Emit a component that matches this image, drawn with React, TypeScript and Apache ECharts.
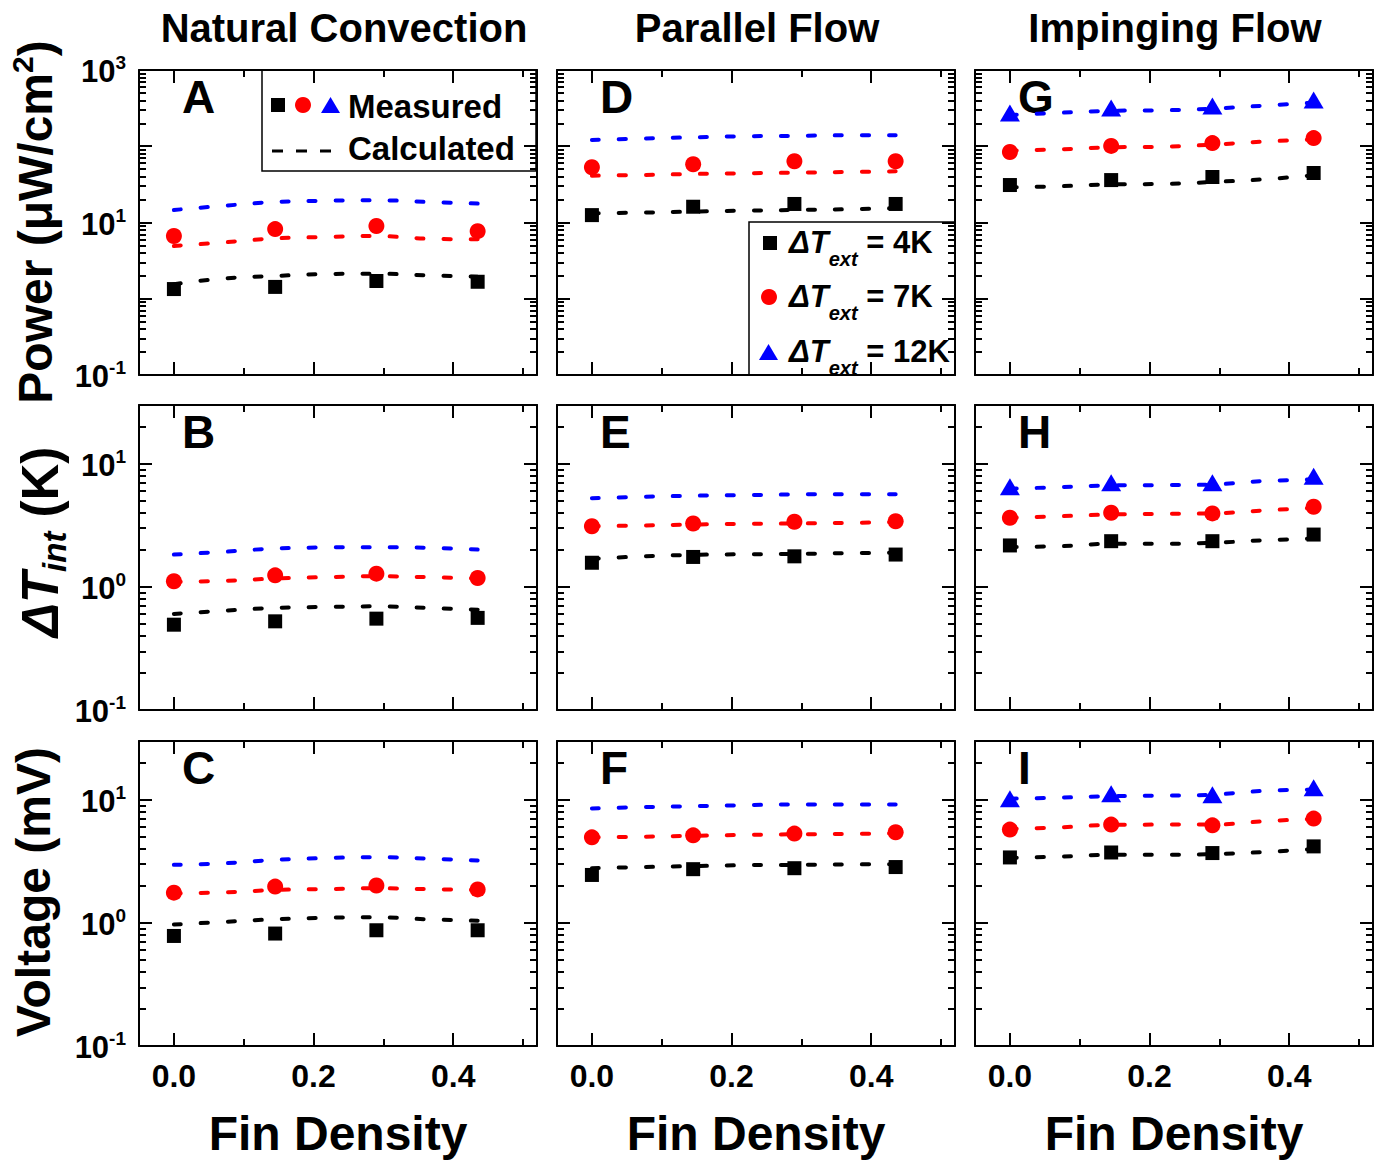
import React, { useEffect, useRef } from "react";
import * as echarts from "echarts";

const FONT = "'Liberation Sans', Arial, Helvetica, sans-serif";

// ---------- texts / ticks ----------
const columnTitles = ["Natural Convection", "Parallel Flow", "Impinging Flow"];
const xAxisTitle = "Fin Density";
const panelLetters = ["A", "B", "C", "D", "E", "F", "G", "H", "I"];
const legendTemps = ["4K", "7K", "12K"];
const xMajorTicks = [0, 0.2, 0.4];
const xMinorTicks = [0.1, 0.3, 0.5];
const powerDecades = [0.1, 1, 10, 100, 1000];
const powerLabelTicks = [0.1, 10, 1000];
const smallDecades = [0.1, 1, 10];
const smallLabelTicks = [0.1, 1, 10];

// ---------- data ----------
const finDensityMeasured = [0, 0.145, 0.29, 0.435];
const finDensityCalculated = [0, 0.0725, 0.145, 0.2175, 0.29, 0.3625, 0.435];

// A: power, natural convection
const powerNatMeas4K = [1.34, 1.43, 1.71, 1.67];
const powerNatMeas7K = [6.65, 8.2, 9.0, 7.7];
const powerNatCalc4K = [1.55, 1.85, 1.99, 2.11, 2.13, 2.03, 1.95];
const powerNatCalc7K = [4.92, 5.5, 6.19, 6.45, 6.65, 6.13, 6.02];
const powerNatCalc12K = [14.6, 16.6, 18.6, 19.3, 19.6, 18.6, 17.7];
// B: dT_int, natural convection
const dtNatMeas4K = [0.493, 0.525, 0.552, 0.56];
const dtNatMeas7K = [1.11, 1.24, 1.28, 1.18];
const dtNatCalc4K = [0.603, 0.641, 0.675, 0.687, 0.695, 0.675, 0.653];
const dtNatCalc7K = [1.1, 1.12, 1.17, 1.2, 1.22, 1.2, 1.17];
const dtNatCalc12K = [1.83, 1.93, 2.05, 2.09, 2.1, 2.08, 2.01];
// C: voltage, natural convection
const vNatMeas4K = [0.783, 0.819, 0.871, 0.871];
const vNatMeas7K = [1.76, 1.97, 2.01, 1.87];
const vNatCalc4K = [0.97, 1.02, 1.07, 1.1, 1.11, 1.07, 1.04];
const vNatCalc7K = [1.74, 1.77, 1.85, 1.88, 1.91, 1.88, 1.85];
const vNatCalc12K = [2.96, 3.05, 3.25, 3.36, 3.42, 3.33, 3.21];
// D: power, parallel flow
const powerParMeas4K = [12.5, 16.1, 17.5, 17.5];
const powerParMeas7K = [53, 58, 63.5, 63.5];
const powerParCalc4K = [13.2, 13.5, 13.9, 14.3, 14.6, 14.9, 15.4];
const powerParCalc7K = [41.1, 42, 43.3, 44.2, 45, 45.9, 46.9];
const powerParCalc12K = [121, 126, 131, 135, 137, 139, 139];
// E: dT_int, parallel flow
const dtParMeas4K = [1.57, 1.75, 1.77, 1.83];
const dtParMeas7K = [3.11, 3.27, 3.38, 3.41];
const dtParCalc4K = [1.69, 1.77, 1.82, 1.84, 1.85, 1.88, 1.89];
const dtParCalc7K = [3.11, 3.15, 3.21, 3.25, 3.27, 3.31, 3.35];
const dtParCalc12K = [5.25, 5.39, 5.5, 5.56, 5.63, 5.66, 5.66];
// F: voltage, parallel flow
const vParMeas4K = [2.45, 2.73, 2.78, 2.84];
const vParMeas7K = [4.95, 5.14, 5.31, 5.44];
const vParCalc4K = [2.78, 2.84, 2.89, 2.94, 2.96, 2.98, 3.0];
const vParCalc7K = [4.95, 5.01, 5.1, 5.18, 5.24, 5.27, 5.33];
const vParCalc12K = [8.49, 8.71, 8.87, 9.03, 9.16, 9.16, 9.16];
// G: power, impinging flow
const powerImpMeas4K = [31, 36, 39.5, 44.6];
const powerImpMeas7K = [84, 101, 110, 128];
const powerImpMeas12K = [273, 318, 337, 405];
const powerImpCalc4K = [29, 29.9, 31.7, 32, 34, 36.8, 41.6];
const powerImpCalc7K = [87.5, 91.2, 96.9, 98.6, 105, 115, 123];
const powerImpCalc12K = [257, 275, 292, 296, 311, 340, 373];
// H: dT_int, impinging flow
const dtImpMeas4K = [2.17, 2.35, 2.35, 2.66];
const dtImpMeas7K = [3.64, 4.0, 3.95, 4.47];
const dtImpMeas12K = [6.5, 7.02, 7.02, 7.93];
const dtImpCalc4K = [2.11, 2.14, 2.24, 2.24, 2.28, 2.39, 2.47];
const dtImpCalc7K = [3.64, 3.75, 3.87, 3.92, 3.95, 4.17, 4.39];
const dtImpCalc12K = [6.27, 6.46, 6.67, 6.7, 6.79, 7.23, 7.46];
// I: voltage, impinging flow
const vImpMeas4K = [3.4, 3.73, 3.69, 4.18];
const vImpMeas7K = [5.72, 6.28, 6.2, 7.03];
const vImpMeas12K = [10.2, 11.2, 11.0, 12.5];
const vImpCalc4K = [3.38, 3.45, 3.57, 3.57, 3.62, 3.76, 3.98];
const vImpCalc7K = [5.8, 5.97, 6.25, 6.28, 6.28, 6.68, 7.0];
const vImpCalc12K = [10.2, 10.4, 10.7, 10.8, 11.0, 11.8, 12.1];

const panels = [
  { row: 0, col: 0, meas: [powerNatMeas4K, powerNatMeas7K, null], calc: [powerNatCalc4K, powerNatCalc7K, powerNatCalc12K] },
  { row: 1, col: 0, meas: [dtNatMeas4K, dtNatMeas7K, null], calc: [dtNatCalc4K, dtNatCalc7K, dtNatCalc12K] },
  { row: 2, col: 0, meas: [vNatMeas4K, vNatMeas7K, null], calc: [vNatCalc4K, vNatCalc7K, vNatCalc12K] },
  { row: 0, col: 1, meas: [powerParMeas4K, powerParMeas7K, null], calc: [powerParCalc4K, powerParCalc7K, powerParCalc12K] },
  { row: 1, col: 1, meas: [dtParMeas4K, dtParMeas7K, null], calc: [dtParCalc4K, dtParCalc7K, dtParCalc12K] },
  { row: 2, col: 1, meas: [vParMeas4K, vParMeas7K, null], calc: [vParCalc4K, vParCalc7K, vParCalc12K] },
  { row: 0, col: 2, meas: [powerImpMeas4K, powerImpMeas7K, powerImpMeas12K], calc: [powerImpCalc4K, powerImpCalc7K, powerImpCalc12K] },
  { row: 1, col: 2, meas: [dtImpMeas4K, dtImpMeas7K, dtImpMeas12K], calc: [dtImpCalc4K, dtImpCalc7K, dtImpCalc12K] },
  { row: 2, col: 2, meas: [vImpMeas4K, vImpMeas7K, vImpMeas12K], calc: [vImpCalc4K, vImpCalc7K, vImpCalc12K] },
];

// ---------- styling / layout ----------
const COLORS = ["#000000", "#ff0000", "#0000ff"];
const SYMBOLS = ["rect", "circle", "triangle"];
const SYMBOL_SIZES: any[] = [14, 16, [20, 17]];
const COL_LEFT = [139, 557, 975];
const ROW_TOP = [70, 405, 741];
const PW = 398;
const PH = 305;
const TITLE_CX = [344, 757, 1175];

function minorTicks(decades: number[], maxV: number) {
  const out: number[] = [];
  decades.forEach((d) => {
    for (let m = 2; m <= 9; m++) {
      const v = d * m;
      if (v < maxV * 0.999) out.push(v);
    }
  });
  return out;
}

function makeX(i: number, pos: string, major: boolean, showLabel: boolean) {
  return {
    type: "value",
    gridIndex: i,
    min: -0.05,
    max: 0.52,
    position: pos,
    axisLine: { show: major, onZero: false, lineStyle: { color: "#000", width: 2 } },
    axisTick: {
      show: true,
      inside: true,
      length: major ? 13 : 7,
      customValues: major ? xMajorTicks : xMinorTicks,
      lineStyle: { color: "#000", width: 2 },
    },
    axisLabel: {
      show: showLabel,
      customValues: xMajorTicks,
      formatter: (v: number) => v.toFixed(1),
      margin: 14,
      fontSize: 32,
      fontWeight: "bold",
      fontFamily: FONT,
      color: "#000",
    },
    splitLine: { show: false },
  };
}

function makeY(i: number, pos: string, major: boolean, showLabel: boolean, maxV: number, ticks: number[], labels: number[]) {
  return {
    type: "log",
    logBase: 10,
    gridIndex: i,
    min: 0.1,
    max: maxV,
    position: pos,
    axisLine: { show: major, onZero: false, lineStyle: { color: "#000", width: 2 } },
    axisTick: {
      show: true,
      inside: true,
      length: major ? 13 : 7,
      customValues: ticks,
      lineStyle: { color: "#000", width: 2 },
    },
    axisLabel: {
      show: showLabel,
      customValues: labels,
      margin: 13,
      formatter: (v: number) => `{b|10}{s|${Math.round(Math.log10(v))}}`,
      rich: {
        b: { fontSize: 31, fontWeight: "bold", fontFamily: FONT, color: "#000", lineHeight: 34, verticalAlign: "bottom" },
        s: { fontSize: 19, fontWeight: "bold", fontFamily: FONT, color: "#000", lineHeight: 16, verticalAlign: "top" },
      },
    },
    splitLine: { show: false },
  };
}

function boldText(x: number, y: number, text: string, size: number, align = "center", vAlign = "middle") {
  return {
    type: "text",
    x,
    y,
    silent: true,
    style: { text, fontSize: size, fontWeight: "bold", fontFamily: FONT, fill: "#000", align, verticalAlign: vAlign },
  };
}

function buildOption() {
  const grid: any[] = [];
  const xAxis: any[] = [];
  const yAxis: any[] = [];
  const series: any[] = [];
  const graphic: any[] = [];

  panels.forEach((p, i) => {
    const left = COL_LEFT[p.col];
    const top = ROW_TOP[p.row];
    grid.push({ left, top, width: PW, height: PH, containLabel: false });
    const showX = p.row === 2;
    const showY = p.col === 0;
    xAxis.push(makeX(i, "bottom", true, showX), makeX(i, "bottom", false, false), makeX(i, "top", true, false), makeX(i, "top", false, false));
    const isPower = p.row === 0;
    const maxV = isPower ? 1000 : 30;
    const decades = isPower ? powerDecades : smallDecades;
    const labels = isPower ? powerLabelTicks : smallLabelTicks;
    const minors = minorTicks(decades, maxV);
    yAxis.push(
      makeY(i, "left", true, showY, maxV, decades, labels),
      makeY(i, "left", false, false, maxV, minors, labels),
      makeY(i, "right", true, false, maxV, decades, labels),
      makeY(i, "right", false, false, maxV, minors, labels)
    );
    p.calc.forEach((vals, k) => {
      series.push({
        type: "line",
        xAxisIndex: 4 * i,
        yAxisIndex: 4 * i,
        data: finDensityCalculated.map((x, j) => [x, vals[j]]),
        symbol: "none",
        smooth: 0.4,
        silent: true,
        z: 2,
        lineStyle: { color: COLORS[k], width: 4, type: [7, 20], cap: "round" },
      });
    });
    p.meas.forEach((vals, k) => {
      if (!vals) return;
      series.push({
        type: "scatter",
        xAxisIndex: 4 * i,
        yAxisIndex: 4 * i,
        data: finDensityMeasured.map((x, j) => [x, vals[j]]),
        symbol: SYMBOLS[k],
        symbolSize: SYMBOL_SIZES[k],
        itemStyle: { color: COLORS[k], opacity: 1 },
        z: 3,
      });
    });
    graphic.push(boldText(left + 43, top + 27, panelLetters[i], 46, "left", "middle"));
  });

  // column titles and x titles
  columnTitles.forEach((t, c) => {
    graphic.push(boldText(TITLE_CX[c], 28, t, 40));
    graphic.push(boldText(COL_LEFT[c] + PW / 2, 1133, xAxisTitle, 48));
  });

  // y titles (rotated)
  graphic.push({
    type: "text",
    x: 33,
    y: 222,
    rotation: Math.PI / 2,
    silent: true,
    style: {
      text: "{a|Power (μW/cm}{s|2}{a|)}",
      align: "center",
      verticalAlign: "middle",
      fill: "#000",
      rich: {
        a: { fontSize: 48, fontWeight: "bold", fontFamily: FONT, lineHeight: 52, verticalAlign: "bottom" },
        s: { fontSize: 30, fontWeight: "bold", fontFamily: FONT, lineHeight: 22, verticalAlign: "top" },
      },
    },
  });
  graphic.push({
    type: "text",
    x: 41,
    y: 542,
    rotation: Math.PI / 2,
    silent: true,
    style: {
      text: "{it|ΔT}{sub|int}{n| (K)}",
      align: "center",
      verticalAlign: "middle",
      fill: "#000",
      rich: {
        it: { fontSize: 51, fontWeight: "bold", fontStyle: "italic", fontFamily: FONT, lineHeight: 52, verticalAlign: "top" },
        sub: { fontSize: 33, fontWeight: "bold", fontStyle: "italic", fontFamily: FONT, lineHeight: 32, padding: [23, 0, 0, 0], verticalAlign: "top" },
        n: { fontSize: 51, fontWeight: "bold", fontFamily: FONT, lineHeight: 52, verticalAlign: "top" },
      },
    },
  });
  graphic.push({
    type: "text",
    x: 33,
    y: 892,
    rotation: Math.PI / 2,
    silent: true,
    style: { text: "Voltage (mV)", fontSize: 48, fontWeight: "bold", fontFamily: FONT, fill: "#000", align: "center", verticalAlign: "middle" },
  });

  // Legend in panel A
  graphic.push({ type: "rect", silent: true, shape: { x: 262, y: 70, width: 274, height: 101 }, style: { fill: "none", stroke: "#000", lineWidth: 1.5 } });
  graphic.push({ type: "rect", silent: true, shape: { x: 271, y: 98, width: 14, height: 14 }, style: { fill: COLORS[0] } });
  graphic.push({ type: "circle", silent: true, shape: { cx: 303, cy: 105, r: 8 }, style: { fill: COLORS[1] } });
  graphic.push({ type: "polygon", silent: true, shape: { points: [[321, 113], [340, 113], [330.5, 97]] }, style: { fill: COLORS[2] } });
  graphic.push(boldText(348, 106, "Measured", 33, "left", "middle"));
  graphic.push({ type: "line", silent: true, shape: { x1: 272, y1: 151, x2: 336, y2: 151 }, style: { stroke: "#000", lineWidth: 3, lineDash: [11, 13] } });
  graphic.push(boldText(348, 148, "Calculated", 33, "left", "middle"));

  // Legend in panel D
  graphic.push({ type: "rect", silent: true, shape: { x: 749, y: 222, width: 206, height: 153 }, style: { fill: "none", stroke: "#000", lineWidth: 1.5 } });
  const legendY = [243, 297, 352];
  graphic.push({ type: "rect", silent: true, shape: { x: 763, y: legendY[0] - 7, width: 14, height: 14 }, style: { fill: COLORS[0] } });
  graphic.push({ type: "circle", silent: true, shape: { cx: 769, cy: legendY[1], r: 8 }, style: { fill: COLORS[1] } });
  graphic.push({ type: "polygon", silent: true, shape: { points: [[759, legendY[2] + 8], [778, legendY[2] + 8], [768.5, legendY[2] - 8]] }, style: { fill: COLORS[2] } });
  legendTemps.forEach((t, k) => {
    graphic.push({
      type: "text",
      x: 789,
      y: legendY[k] - 16,
      silent: true,
      style: {
        text: `{it|ΔT}{sub|ext}{n| = ${t}}`,
        align: "left",
        verticalAlign: "top",
        fill: "#000",
        rich: {
          it: { fontSize: 31, fontWeight: "bold", fontStyle: "italic", fontFamily: FONT, lineHeight: 36, verticalAlign: "top" },
          sub: { fontSize: 20, fontWeight: "bold", fontStyle: "italic", fontFamily: FONT, lineHeight: 20, padding: [22, 0, 0, 0], verticalAlign: "top" },
          n: { fontSize: 31, fontWeight: "bold", fontFamily: FONT, lineHeight: 36, verticalAlign: "top" },
        },
      },
    });
  });

  return {
    animation: false,
    backgroundColor: "#ffffff",
    grid,
    xAxis,
    yAxis,
    series,
    graphic: { elements: graphic },
  };
}

export default function App() {
  const ref = useRef<HTMLDivElement>(null);
  useEffect(() => {
    if (!ref.current) return;
    const chart = echarts.init(ref.current, undefined, { renderer: "svg" });
    chart.setOption(buildOption() as any);
    return () => chart.dispose();
  }, []);
  return (
    <div
      ref={ref}
      style={{ position: "absolute", left: 0, top: 0, width: 1386, height: 1166, background: "#fff" }}
    />
  );
}
